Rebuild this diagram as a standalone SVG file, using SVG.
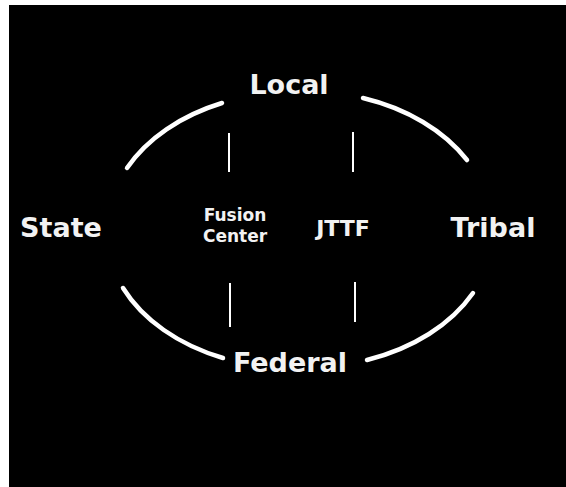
<svg xmlns="http://www.w3.org/2000/svg" width="566" height="487" viewBox="0 0 566 487">
  <style>
    .lbl { font-family: "DejaVu Sans", Verdana, sans-serif; font-weight: bold; fill: #f2f2f2; }
    .big { font-size: 27px; }
    .mid { font-size: 22px; }
    .small { font-size: 17px; }
    .arc { fill: none; stroke: #ffffff; stroke-width: 4.5; stroke-linecap: round; }
    .tick { stroke: #ffffff; stroke-width: 2; fill: none; }
  </style>
  <rect x="0" y="0" width="566" height="487" fill="#ffffff"/>
  <rect id="panel" x="9" y="5" width="557" height="482" fill="#000000"/>
  <g id="connectors">
    <path class="arc" d="M127,168 A187,136 0 0 1 222,103"/>
    <path class="arc" d="M363,98 A187,136 0 0 1 467,160"/>
    <path class="arc" d="M473,293 A187,136 0 0 1 367,360"/>
    <path class="arc" d="M223,358 A187,136 0 0 1 123,288"/>
    <line class="tick" x1="229" y1="133" x2="229" y2="172"/>
    <line class="tick" x1="353" y1="132" x2="353" y2="172"/>
    <line class="tick" x1="230" y1="283" x2="230" y2="327"/>
    <line class="tick" x1="355" y1="282" x2="355" y2="322"/>
  </g>
  <g id="local"><text class="lbl big" x="289" y="94" text-anchor="middle">Local</text></g>
  <g id="state"><text class="lbl big" x="61" y="237" text-anchor="middle">State</text></g>
  <g id="fusion-center">
    <text class="lbl small" x="235" y="221" text-anchor="middle">Fusion</text>
    <text class="lbl small" x="235" y="242" text-anchor="middle">Center</text>
  </g>
  <g id="jttf"><text class="lbl mid" x="343" y="236" text-anchor="middle">JTTF</text></g>
  <g id="tribal"><text class="lbl big" x="493" y="237" text-anchor="middle">Tribal</text></g>
  <g id="federal"><text class="lbl big" x="290" y="372" text-anchor="middle">Federal</text></g>
</svg>
